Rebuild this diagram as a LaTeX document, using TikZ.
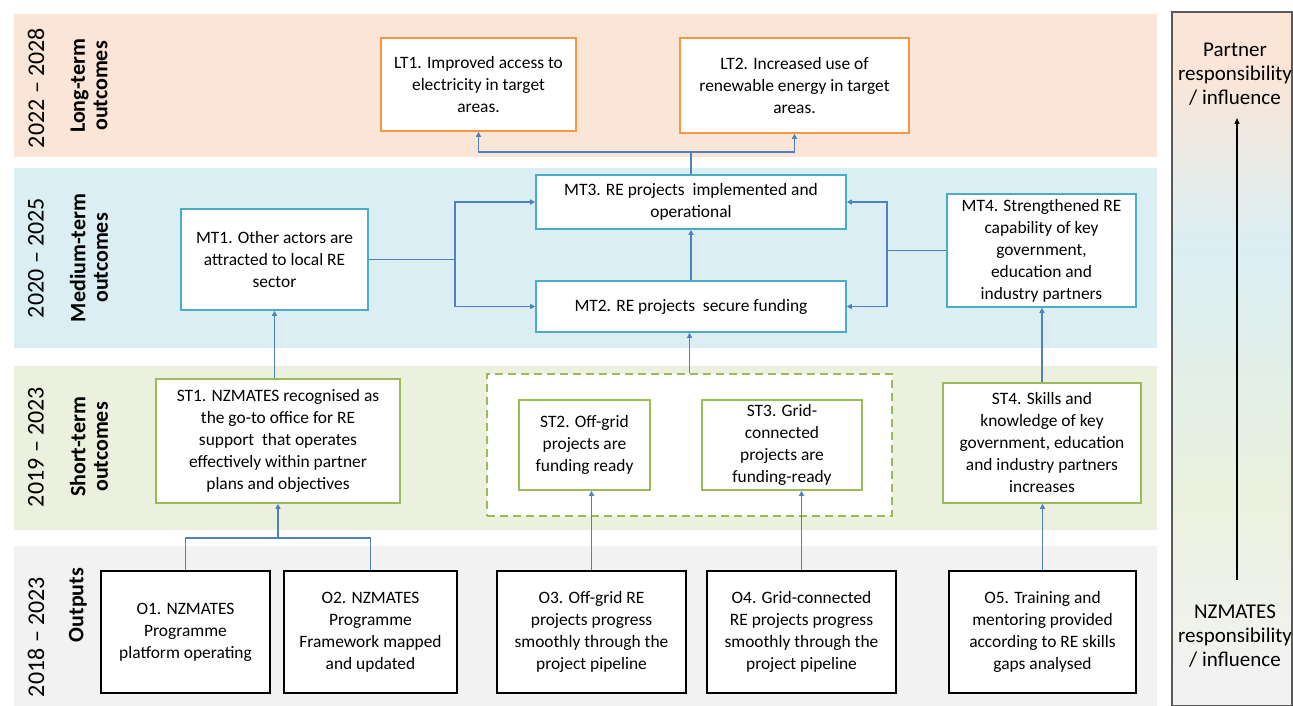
\documentclass[tikz,border=0pt]{standalone}
\usepackage{fontspec}
\setmainfont{Carlito}
\usetikzlibrary{arrows.meta}

\definecolor{peachband}{HTML}{FBE5D6}
\definecolor{blueband}{HTML}{DAEEF3}
\definecolor{greenband}{HTML}{EBF1DE}
\definecolor{grayband}{HTML}{F2F2F2}
\definecolor{ltorange}{HTML}{F79646}
\definecolor{mtteal}{HTML}{4BACC6}
\definecolor{stgreen}{HTML}{9BBB59}
\definecolor{linkblue}{HTML}{4F81BD}
\definecolor{panelgray}{HTML}{595959}

\newcommand\boxfont{\fontsize{17.4}{22}\selectfont}
\newcommand\yearfont{\fontsize{24}{28}\selectfont}
\newcommand\bandfont{\fontsize{22}{22.5}\selectfont\bfseries}
\newcommand\sidefont{\fontsize{21}{24}\selectfont}

\pgfdeclareverticalshading{influence}{100bp}{color(0bp)=(grayband); color(27bp)=(grayband); color(40bp)=(greenband); color(58bp)=(blueband); color(71bp)=(peachband); color(100bp)=(peachband)}

\begin{document}
\begin{tikzpicture}[
      x=1pt, y=-1pt,
      box/.style={draw, fill=white, align=center, line width=1.6pt, font=\boxfont, inner sep=2pt},
      box size/.style 2 args={minimum width=#1pt, minimum height=#2pt},
      long box/.style={box, draw=ltorange},
      medium box/.style={box, draw=mtteal},
      short box/.style={box, draw=stgreen},
      output box/.style={box, draw=black},
      link/.style={draw=linkblue, line width=1.5pt},
      arrow/.style={link, -{Triangle[length=5pt,width=5pt]}},
      year/.style={rotate=90, font=\yearfont},
      band label/.style={rotate=90, font=\bandfont, align=center},
      side text/.style={font=\sidefont, align=center}
    ]
    \useasboundingbox (0,0) rectangle (1293,706);

    % Bands
    \fill[peachband] (14,14) rectangle (1157,157);
    \fill[blueband] (14,168) rectangle (1157,348);
    \fill[greenband] (14,366) rectangle (1157,530);
    \fill[grayband] (14,546) rectangle (1157,706);

    \node (long year) [year] at (36,88) {2022 -- 2028};
    \node (long label) [band label] at (89,86) {Long-term\\outcomes};
    \node (medium year) [year] at (36,258) {2020 -- 2025};
    \node (medium label) [band label] at (89,258) {Medium-term\\outcomes};
    \node (short year) [year] at (36,447) {2019 -- 2023};
    \node (short label) [band label] at (89,447) {Short-term\\outcomes};
    \node (output year) [year] at (36,637) {2018 -- 2023};
    \node (output label) [band label] at (78,605) {Outputs};

    % Influence panel
    \shade[shading=influence] (1172,12) rectangle (1292,706);
    \draw[panelgray, line width=1.2pt] (1172,12) rectangle (1292,706);
    \node (partner) [side text] at (1235,74) {Partner\\responsibility\\/ influence};
    \node (nzmates) [side text] at (1235,636) {NZMATES\\responsibility\\/ influence};
    \coordinate (infl bottom) at (1237,580);
    \coordinate (infl top) at (1237,118);
    \draw[black, line width=1.3pt, -{Triangle[length=6pt,width=5pt]}] (infl bottom) -- (infl top);

    % Long-term outcomes
    \node (lt1) [long box, box size={195}{93}] at (478.5,84.5) {LT1. Improved access to\\electricity in target\\areas.};
    \node (lt2) [long box, box size={229}{95}] at (794.5,85.5) {LT2. Increased use of\\renewable energy in target\\areas.};

    % Medium-term outcomes
    \node (mt3) [medium box, box size={310}{54}] at (691,202) {MT3. RE projects\ \ implemented and\\operational};
    \node (mt1) [medium box, box size={187}{101}] at (274.5,259.5) {MT1. Other actors are\\attracted to local RE\\sector};
    \node (mt2) [medium box, box size={310}{51}] at (691,306.5) {MT2. RE projects\ \ secure funding};
    \node (mt4) [medium box, box size={189}{113}] at (1041.5,250.5) {MT4. Strengthened RE\\capability of key\\government,\\education and\\industry partners};

    % Short-term outcomes
    \node (st group) [draw=stgreen, fill=white, line width=1.3pt, dash pattern=on 8pt off 5pt, box size={405}{142}] at (689.5,445) {};
    \node (st1) [short box, box size={244}{124}] at (278,441) {ST1. NZMATES recognised as\\the go-to office for RE\\support\ \ that operates\\effectively within partner\\plans and objectives};
    \node (st2) [short box, box size={131}{90}] at (584.5,445) {ST2. Off-grid\\projects are\\funding ready};
    \node (st3) [short box, box size={160}{90}] at (782,445) {ST3. Grid-\\connected\\projects are\\funding-ready};
    \node (st4) [short box, box size={198}{120}] at (1042,443) {ST4. Skills and\\knowledge of key\\government, education\\and industry partners\\increases};

    % Outputs
    \node (o1) [output box, box size={169}{122}] at (185.5,632) {O1. NZMATES\\Programme\\platform operating};
    \node (o2) [output box, box size={173}{122}] at (370.5,632) {O2. NZMATES\\Programme\\Framework mapped\\and updated};
    \node (o3) [output box, box size={189}{122}] at (591.5,632) {O3. Off-grid RE\\projects progress\\smoothly through the\\project pipeline};
    \node (o4) [output box, box size={189}{122}] at (801.5,632) {O4. Grid-connected\\RE projects progress\\smoothly through the\\project pipeline};
    \node (o5) [output box, box size={187}{122}] at (1042.5,632) {O5. Training and\\mentoring provided\\according to RE skills\\gaps analysed};

    % Links up to long-term
    \draw[link] (mt3.north) -- ++(0,-22) coordinate (lt split);
    \draw[arrow] (lt split) -| (lt1.south);
    \draw[arrow] (lt split) -| (lt2.south);

    % Links within medium-term
    \coordinate (mt left split) at (455,259.5);
    \coordinate (mt right split) at (887,250.5);
    \draw[link] (mt1.east) -- (mt left split);
    \draw[arrow] (mt left split) |- (mt3.west);
    \draw[arrow] (mt left split) |- (mt2.west);
    \draw[link] (mt4.west) -- (mt right split);
    \draw[arrow] (mt right split) |- (mt3.east);
    \draw[arrow] (mt right split) |- (mt2.east);
    \draw[arrow] (mt2) -- (mt3);

    % Links up to medium-term
    \draw[arrow] (mt1.south |- st1.north) -- (mt1.south);
    \draw[arrow] (st group.north) -- (st group.north |- mt2.south);
    \draw[arrow] (st4.north) -- (st4.north |- mt4.south);

    % Links up to short-term
    \coordinate (out split) at (278,538);
    \draw[link] (o1.north) |- (out split) -| (o2.north);
    \draw[arrow] (out split) -- (st1.south);
    \draw[arrow] (o3.north) -- (o3.north |- st2.south);
    \draw[arrow] (o4.north) -- (o4.north |- st3.south);
    \draw[arrow] (o5.north) -- (o5.north |- st4.south);
  \end{tikzpicture}
\end{document}
